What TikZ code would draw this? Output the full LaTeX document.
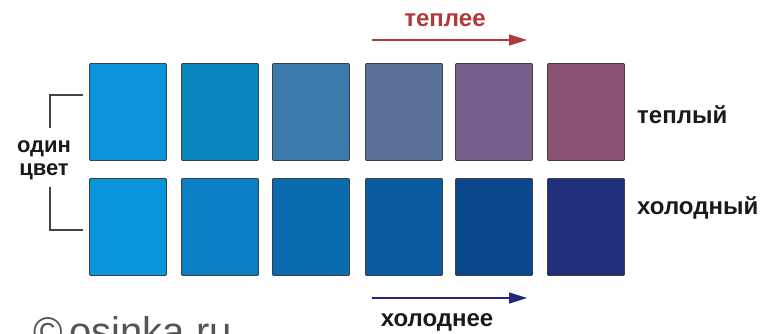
\documentclass[tikz,border=0pt]{standalone}
\usepackage{fontspec}
\setmainfont{Liberation Sans}
\usetikzlibrary{arrows.meta}
\definecolor{tA}{HTML}{0A92DC}
\definecolor{tB}{HTML}{0A86C0}
\definecolor{tC}{HTML}{3A7BAB}
\definecolor{tD}{HTML}{5A7299}
\definecolor{tE}{HTML}{765F8C}
\definecolor{tF}{HTML}{8B5274}
\definecolor{bA}{HTML}{0A94DC}
\definecolor{bB}{HTML}{0A7FC4}
\definecolor{bC}{HTML}{0A6CAE}
\definecolor{bD}{HTML}{0A5AA0}
\definecolor{bE}{HTML}{0A468C}
\definecolor{bF}{HTML}{1F2F7C}
\definecolor{warmred}{HTML}{B03A3A}
\definecolor{coldnavy}{HTML}{24287A}
\definecolor{txt}{HTML}{1A1A1A}
\definecolor{bracketgray}{HTML}{444444}
\definecolor{copygray}{HTML}{555555}
\begin{document}
\begin{tikzpicture}[x=1pt,y=-1pt,
  swatch/.style={draw=black!75,line width=0.9pt,rounded corners=1pt,minimum width=77pt,minimum height=97pt,inner sep=0pt,anchor=north west},
  lbl/.style={font=\bfseries\fontsize{24}{26}\selectfont,text=txt,inner sep=0pt},
  slbl/.style={font=\bfseries\fontsize{22}{24}\selectfont,text=txt,inner sep=0pt},
  brk/.style={draw=bracketgray,line width=1.3pt},
  arr/.style={line width=1.5pt,-{Triangle[length=18pt,width=11pt]}}]
\clip (0,0) rectangle (762,333);
\fill[white] (0,0) rectangle (762,333);
% top row
\node[swatch,fill=tA] (t1) at (89,63) {};
\node[swatch,fill=tB] (t2) at (181,63) {};
\node[swatch,fill=tC] (t3) at (272,63) {};
\node[swatch,fill=tD] (t4) at (365,63) {};
\node[swatch,fill=tE] (t5) at (455,63) {};
\node[swatch,fill=tF] (t6) at (547,63) {};
% bottom row
\node[swatch,fill=bA] (b1) at (89,178) {};
\node[swatch,fill=bB] (b2) at (181,178) {};
\node[swatch,fill=bC] (b3) at (272,178) {};
\node[swatch,fill=bD] (b4) at (365,178) {};
\node[swatch,fill=bE] (b5) at (455,178) {};
\node[swatch,fill=bF] (b6) at (547,178) {};
% labels
\node[lbl,anchor=west] (warm) at (637,115) {теплый};
\node[lbl,anchor=west] (cold) at (637,208) {холодный};
\node[slbl] (one) at (44,149) {один};
\node[slbl] (col) at (44,172) {цвет};
% bracket
\coordinate (brTa) at (83,95);
\coordinate (brTb) at (50,95);
\coordinate (brTc) at (50,128);
\coordinate (brBa) at (50,187);
\coordinate (brBb) at (50,230);
\coordinate (brBc) at (83,230);
\draw[brk] (brTa) -- (brTb) -- (brTc);
\draw[brk] (brBa) -- (brBb) -- (brBc);
% arrows
\coordinate (wS) at (372,40);
\coordinate (wE) at (527,40);
\draw[arr,warmred] (wS) -- (wE);
\node[lbl,text=warmred] (warmer) at (445,20) {теплее};
\coordinate (cS) at (372,298);
\coordinate (cE) at (527,298);
\draw[arr,coldnavy] (cS) -- (cE);
\node[lbl] (colder) at (437,322) {холоднее};
% copyright
\node[anchor=base west,inner sep=0pt,text=copygray,font=\fontsize{40}{44}\selectfont] (copy) at (33,345) {©\,osinka.ru};
\end{tikzpicture}
\end{document}
